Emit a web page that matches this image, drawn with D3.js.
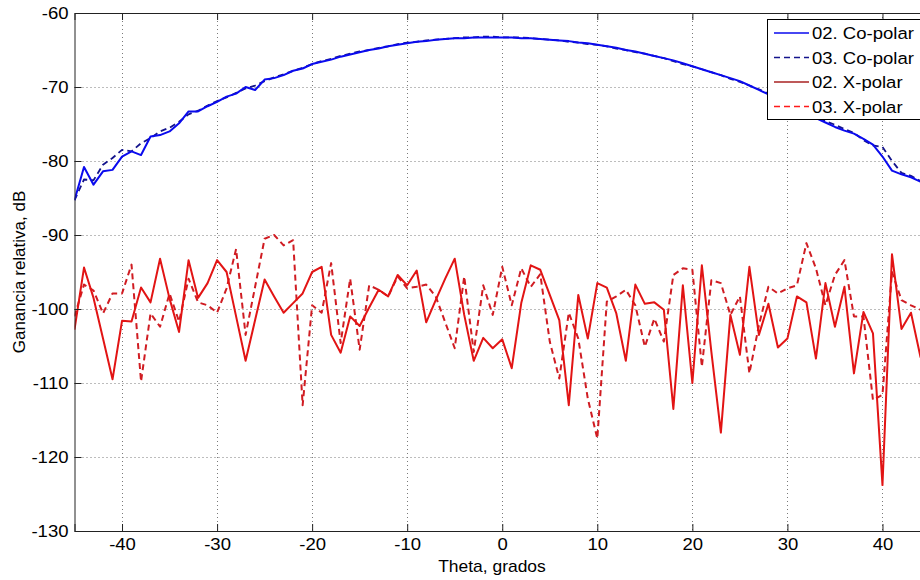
<!DOCTYPE html>
<html>
<head>
<meta charset="utf-8">
<script src="https://cdn.jsdelivr.net/npm/d3@7"></script>
<style>
  html, body { margin: 0; padding: 0; background: #fff; }
  svg { display: block; font-family: "Liberation Sans", Arial, Helvetica, sans-serif; }
</style>
</head>
<body>
<svg id="chart" width="920" height="580"></svg>
<script>
// ---- data ----
const theta = [-45,-44,-43,-42,-41,-40,-39,-38,-37,-36,-35,-34,-33,-32,-31,-30,-29,-28,-27,-26,-25,-24,-23,-22,-21,-20,-19,-18,-17,-16,-15,-14,-13,-12,-11,-10,-9,-8,-7,-6,-5,-4,-3,-2,-1,0,1,2,3,4,5,6,7,8,9,10,11,12,13,14,15,16,17,18,19,20,21,22,23,24,25,26,27,28,29,30,31,32,33,34,35,36,37,38,39,40,41,42,43,44,45];

const coPolar02 = [-85.3,-80.8,-83.2,-81.4,-81.2,-79.4,-78.7,-79.2,-76.7,-76.5,-76.0,-74.9,-73.3,-73.3,-72.6,-72.0,-71.3,-70.9,-70.0,-70.4,-69.0,-68.8,-68.4,-67.8,-67.5,-66.9,-66.6,-66.3,-65.9,-65.6,-65.3,-65.0,-64.8,-64.5,-64.3,-64.1,-63.9,-63.8,-63.6,-63.5,-63.4,-63.4,-63.3,-63.3,-63.3,-63.3,-63.3,-63.4,-63.4,-63.5,-63.6,-63.7,-63.8,-64.0,-64.1,-64.3,-64.5,-64.7,-65.0,-65.2,-65.5,-65.8,-66.1,-66.4,-66.8,-67.2,-67.6,-68.0,-68.4,-68.8,-69.2,-69.8,-70.4,-71.0,-71.6,-72.2,-72.9,-73.5,-74.2,-74.8,-75.4,-75.9,-76.3,-77.0,-77.8,-79.4,-81.3,-81.8,-82.2,-82.8,-83.4];

const coPolar03 = [-85.3,-82.5,-82.6,-80.5,-79.6,-78.5,-78.7,-77.6,-76.9,-76.0,-75.5,-74.7,-73.7,-73.2,-72.5,-71.9,-71.4,-70.8,-70.2,-69.8,-69.2,-68.7,-68.3,-67.8,-67.4,-66.9,-66.5,-66.2,-65.8,-65.5,-65.2,-65.0,-64.7,-64.5,-64.2,-64.0,-63.9,-63.7,-63.6,-63.5,-63.4,-63.3,-63.3,-63.2,-63.2,-63.3,-63.3,-63.3,-63.4,-63.5,-63.6,-63.7,-63.9,-64.0,-64.2,-64.3,-64.5,-64.8,-65.0,-65.3,-65.5,-65.8,-66.1,-66.5,-66.9,-67.2,-67.6,-68.0,-68.4,-68.9,-69.3,-69.8,-70.3,-70.9,-71.5,-72.1,-72.8,-73.4,-74.0,-74.6,-75.1,-75.7,-76.2,-77.2,-77.9,-78.1,-80.0,-81.6,-82.0,-82.7,-83.4];

const xPolar02 = [-102.8,-94.4,-98.5,-104.0,-109.5,-101.6,-101.7,-97.1,-99.1,-93.2,-98.6,-103.1,-93.4,-98.5,-96.5,-93.4,-95.0,-101.0,-107.0,-101.5,-96.0,-98.3,-100.5,-99.2,-97.9,-95.0,-94.3,-103.5,-105.9,-101.0,-102.3,-99.8,-97.4,-98.3,-95.4,-96.8,-94.8,-101.8,-98.8,-95.9,-93.2,-100.8,-107.0,-103.9,-105.3,-104.1,-108.0,-99.2,-94.1,-94.7,-98.1,-101.5,-113.0,-98.1,-104.0,-96.5,-97.1,-100.6,-107.0,-96.7,-99.3,-99.1,-100.1,-113.5,-96.8,-110.0,-94.1,-105.8,-116.7,-100.8,-106.2,-94.3,-103.5,-99.3,-105.2,-104.0,-98.3,-99.1,-106.7,-96.5,-102.4,-97.0,-108.7,-100.4,-103.3,-123.8,-92.6,-102.7,-100.5,-106.5,-108.0];

const xPolar03 = [-101.0,-96.7,-97.5,-100.6,-97.9,-97.9,-94.0,-109.8,-100.6,-102.4,-97.9,-101.7,-95.9,-99.1,-99.5,-100.5,-97.2,-91.9,-103.5,-97.0,-90.5,-90.0,-91.4,-90.7,-113.0,-99.5,-100.5,-93.8,-104.6,-95.9,-105.5,-96.8,-97.4,-98.3,-95.6,-97.2,-97.0,-96.7,-98.3,-101.8,-105.3,-95.6,-105.8,-96.8,-100.8,-94.3,-99.5,-94.5,-97.0,-95.3,-104.4,-109.4,-100.5,-104.0,-112.1,-117.5,-99.0,-98.3,-97.4,-99.5,-105.1,-101.3,-104.4,-95.4,-94.5,-94.7,-107.8,-96.1,-96.5,-100.8,-98.3,-108.7,-102.2,-97.0,-97.9,-97.2,-96.8,-91.1,-94.5,-99.5,-95.4,-93.4,-101.0,-101.0,-112.3,-111.6,-95.0,-98.8,-99.5,-100.1,-98.7];

const xTicks = [-40,-30,-20,-10,0,10,20,30,40];
const yTicks = [-130,-120,-110,-100,-90,-80,-70,-60];
const seriesNames = ["02. Co-polar","03. Co-polar","02. X-polar","03. X-polar"];
const xTitle = "Theta, grados";
const yTitle = "Ganancia relativa, dB";

// ---- styles ----
const styles = [
  {values: coPolar02, color: "#0a0aee", dash: null, width: 2, legendColor: "#0a0aee"},
  {values: coPolar03, color: "#14148c", dash: "6,4", width: 1.8, legendColor: "#14148c"},
  {values: xPolar02, color: "#e21414", dash: null, width: 2, legendColor: "#a82222"},
  {values: xPolar03, color: "#d01c22", dash: "6,4", width: 2, legendColor: "#ff1a1a"}
];

const L = 74.5, R = 930, T = 13, B = 531;
const FS = 17, SX = 1.09;

const svg = d3.select("#chart");
const x = d3.scaleLinear().domain([-45, 45]).range([L, R]);
const y = d3.scaleLinear().domain([-130, -60]).range([B, T]);
const fmt = d => String(d);

function stretch(sel) {
  sel.each(function() {
    const t = d3.select(this);
    const tx = +t.attr("x") || 0;
    t.attr("transform", `translate(${tx},0) scale(${SX},1) translate(${-tx},0)`);
  });
}

// grid
const grid = svg.append("g").attr("stroke", "#7a7a7a").attr("stroke-width", 1).attr("stroke-dasharray", "1,3");
grid.selectAll("line.gx").data(xTicks).join("line")
  .attr("x1", d => Math.round(x(d)) + 0.5).attr("x2", d => Math.round(x(d)) + 0.5)
  .attr("y1", T).attr("y2", B);
grid.selectAll("line.gy").data(yTicks.filter(v => v > -130 && v < -60)).join("line")
  .attr("x1", L).attr("x2", R)
  .attr("y1", d => Math.round(y(d)) + 0.5).attr("y2", d => Math.round(y(d)) + 0.5);

// clip
svg.append("clipPath").attr("id", "clip").append("rect")
  .attr("x", L).attr("y", T).attr("width", R - L).attr("height", B - T);

const line = d3.line().x((d, i) => x(theta[i])).y(d => y(d));
const plot = svg.append("g").attr("clip-path", "url(#clip)");
[3, 2, 1, 0].forEach(k => {
  const s = styles[k];
  plot.append("path").datum(s.values)
    .attr("d", line)
    .attr("fill", "none")
    .attr("stroke", s.color)
    .attr("stroke-width", s.width)
    .attr("stroke-linejoin", "round")
    .attr("stroke-dasharray", s.dash);
});

// axes
const axB = svg.append("g").attr("transform", `translate(0,${B})`)
  .call(d3.axisBottom(x).tickValues(xTicks).tickSize(-7).tickPadding(0).tickFormat(fmt));
axB.select(".domain").attr("stroke", "#222");
axB.selectAll(".tick line").attr("stroke", "#222");
axB.selectAll(".tick text").attr("y", 19).attr("dy", null).attr("font-size", FS).attr("fill", "#000")
  .attr("font-family", "Liberation Sans, Arial, sans-serif").call(stretch);

const axT = svg.append("g").attr("transform", `translate(0,${T})`)
  .call(d3.axisTop(x).tickValues(xTicks).tickSize(-7).tickFormat(""));
axT.select(".domain").attr("stroke", "#222");
axT.selectAll(".tick line").attr("stroke", "#222");

const axL = svg.append("g").attr("transform", `translate(${L},0)`)
  .call(d3.axisLeft(y).tickValues(yTicks).tickSize(-7).tickPadding(0).tickFormat(fmt));
axL.select(".domain").attr("stroke", "#222");
axL.selectAll(".tick line").attr("stroke", "#222");
axL.selectAll(".tick text").attr("x", -6).attr("dy", "0.35em").attr("font-size", FS).attr("fill", "#000")
  .attr("font-family", "Liberation Sans, Arial, sans-serif").call(stretch);

// axis titles
svg.append("text").attr("x", 492).attr("y", 572).attr("text-anchor", "middle")
  .attr("font-size", 16).attr("fill", "#000").text(xTitle).call(stretch);
svg.append("text").attr("transform", `translate(25,${(T + B) / 2}) rotate(-90)`)
  .attr("text-anchor", "middle").attr("font-size", 17).attr("fill", "#000").text(yTitle);

// legend
const lg = svg.append("g");
lg.append("rect").attr("x", 767.5).attr("y", 19.5).attr("width", 160).attr("height", 100)
  .attr("fill", "#fff").attr("stroke", "#000").attr("stroke-width", 1);
const rowY = [33, 57.5, 82, 106.5];
styles.forEach((s, i) => {
  lg.append("line").attr("x1", 774).attr("x2", 809).attr("y1", rowY[i]).attr("y2", rowY[i])
    .attr("stroke", s.legendColor).attr("stroke-width", 1.3).attr("stroke-dasharray", s.dash);
  lg.append("text").attr("x", 812).attr("y", rowY[i]).attr("dy", "0.36em")
    .attr("font-size", FS).attr("fill", "#000").text(seriesNames[i]).call(stretch);
});
</script>
</body>
</html>
